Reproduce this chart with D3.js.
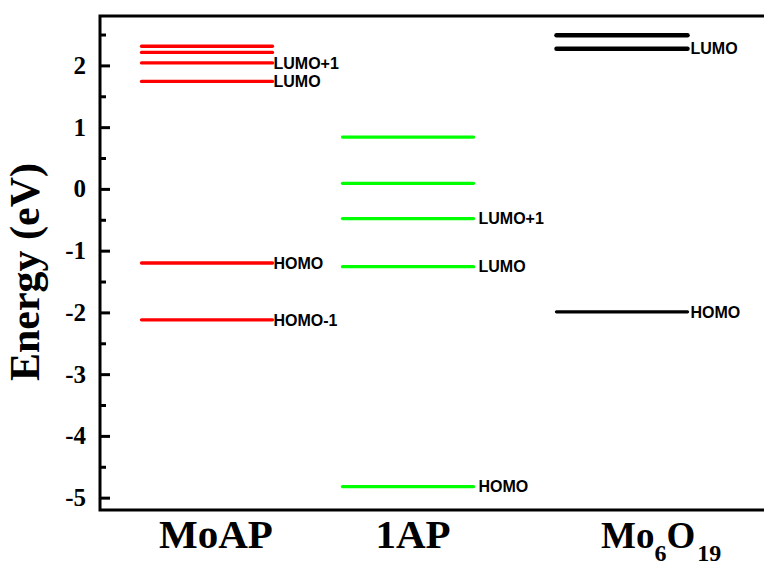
<!DOCTYPE html>
<html>
<head>
<meta charset="utf-8">
<script src="https://cdn.jsdelivr.net/npm/d3@7"></script>
<style>
  body { margin: 0; background: #fff; }
  svg { display: block; }
  .serif { font-family: "Liberation Serif", "Times New Roman", serif; font-weight: bold; }
  .sans { font-family: "Liberation Sans", Arial, sans-serif; font-weight: bold; }
</style>
</head>
<body>
<svg width="764" height="571"></svg>
<script>
const categories = ["MoAP", "1AP", "Mo6O19"];
const colors = ["#ff0000", "#00ff00", "#000000"];

// energy levels (eV) and their labels, per molecule
const moapLevels = [2.31, 2.21, 2.04, 1.74, -1.20, -2.12];
const moapLabels = ["", "", "LUMO+1", "LUMO", "HOMO", "HOMO-1"];
const apLevels = [0.84, 0.09, -0.48, -1.26, -4.82];
const apLabels = ["", "", "LUMO+1", "LUMO", "HOMO"];
const moLevels = [2.49, 2.27, -1.99];
const moLabels = ["", "LUMO", "HOMO"];

const yTicks = [-5, -4, -3, -2, -1, 0, 1, 2];
const yMinor = [-4.5, -3.5, -2.5, -1.5, -0.5, 0.5, 1.5, 2.5];

const svg = d3.select("svg");
const mLeft = 100, mRight = 810, mTop = 16, mBottom = 510;

const y = d3.scaleLinear().domain([-5.2, 2.8]).range([mBottom, mTop]);
const x = d3.scaleOrdinal().domain(categories).range([207, 408, 622]);

const levels = [];
[[moapLevels, moapLabels], [apLevels, apLabels], [moLevels, moLabels]].forEach(([vals, labs], i) => {
    vals.forEach((v, j) => levels.push({ cat: categories[i], color: colors[i], e: v, label: labs[j], thick: i == 2 && j < 2 }));
});

const halfW = 65.5;
const labelGap = { "MoAP": 1, "1AP": 5, "Mo6O19": 3 };

// level lines
svg.append("g").selectAll("line")
    .data(levels)
    .join("line")
    .attr("x1", d => x(d.cat) - halfW)
    .attr("x2", d => x(d.cat) + halfW)
    .attr("y1", d => y(d.e))
    .attr("y2", d => y(d.e))
    .attr("stroke", d => d.color)
    .attr("stroke-width", d => d.thick ? 4.5 : 3.3)
    .attr("stroke-linecap", "round");

svg.append("g").selectAll("text")
    .data(levels.filter(d => d.label))
    .join("text")
    .attr("class", "sans")
    .attr("x", d => x(d.cat) + halfW + labelGap[d.cat])
    .attr("y", d => y(d.e))
    .attr("dy", "0.36em")
    .style("font-size", "16px")
    .text(d => d.label);

// frame
const frame = svg.append("g").attr("stroke", "#000").attr("stroke-width", 3).attr("fill", "none");
frame.append("path").attr("d", `M${mRight},${mTop}H${mLeft}V${mBottom}H${mRight}`);

// y axis, ticks pointing inward
const yAxis = d3.axisRight(y).tickValues(yTicks).tickSize(10).tickFormat(d3.format("d"));
const ga = svg.append("g").attr("transform", `translate(${mLeft},0)`).call(yAxis);
ga.attr("font-family", null);
ga.select(".domain").remove();
ga.selectAll(".tick line").attr("stroke-width", 3);
ga.selectAll(".tick text")
    .attr("class", "serif")
    .attr("x", -14)
    .attr("text-anchor", "end")
    .style("font-size", "25px")
    .text(d => d < 0 ? "-" + Math.abs(d) : d);

const gm = svg.append("g").attr("transform", `translate(${mLeft},0)`)
    .call(d3.axisRight(y).tickValues(yMinor).tickSize(6).tickFormat(""));
gm.select(".domain").remove();
gm.selectAll(".tick line").attr("stroke-width", 3);

// y title
svg.append("text")
    .attr("class", "serif")
    .attr("transform", "translate(39,272) rotate(-90)")
    .attr("text-anchor", "middle")
    .style("font-size", "42px")
    .text("Energy (eV)");

// category labels
const catLabel = () => svg.append("text").attr("class", "serif").style("font-size", "41px").attr("y", 548);

catLabel().attr("x", x("MoAP") + 9).attr("text-anchor", "middle").text("MoAP");
catLabel().attr("x", x("1AP") + 5).attr("text-anchor", "middle").text("1AP");

const mo = catLabel().attr("x", x("Mo6O19") - 21).attr("text-anchor", "start").style("font-size", "37px");
mo.append("tspan").text("Mo");
mo.append("tspan").style("font-size", "24px").attr("dy", 13).text("6");
mo.append("tspan").attr("dy", -13).text("O");
mo.append("tspan").style("font-size", "24px").attr("dy", 13).attr("dx", 2).text("19");
</script>
</body>
</html>
